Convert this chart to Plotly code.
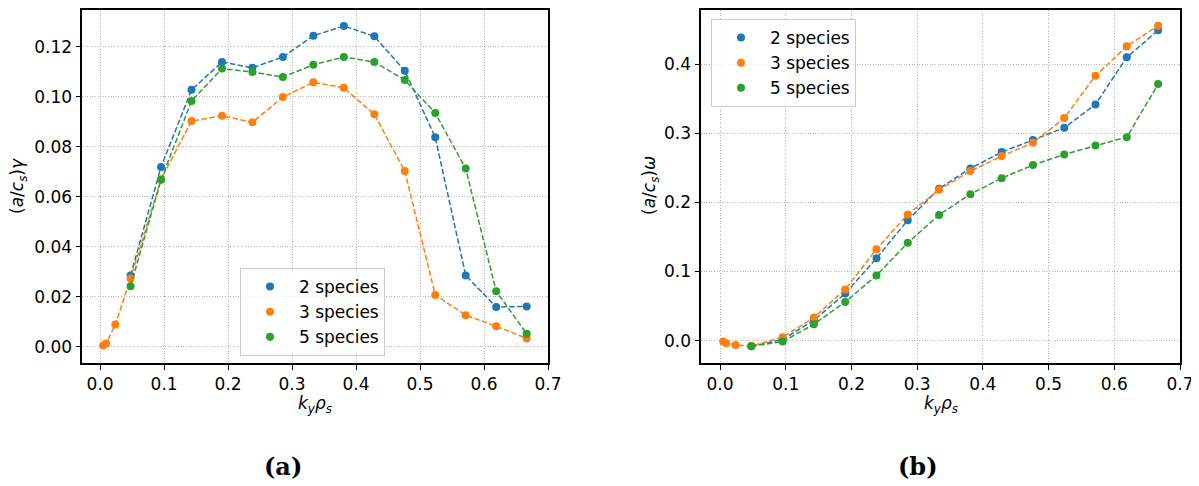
import plotly.graph_objects as go

# ---------------- data ----------------
labels = ["2 species", "3 species", "5 species"]
colors = ["#1f77b4", "#ff7f0e", "#2ca02c"]

ky_main = [0.0476, 0.0952, 0.1429, 0.1905, 0.2381, 0.2857, 0.3333,
           0.3810, 0.4286, 0.4762, 0.5238, 0.5714, 0.6190, 0.6667]
ky_orange = [0.0048, 0.0095, 0.0238] + ky_main

# (a) growth rate
gamma_2 = [0.0286, 0.0719, 0.1028, 0.1139, 0.1116, 0.1159, 0.1244,
           0.1283, 0.1242, 0.1104, 0.0838, 0.0286, 0.0160, 0.0162]
gamma_3 = [0.0006, 0.0014, 0.0090, 0.0274, 0.0670, 0.0903, 0.0924, 0.0898,
           0.0999, 0.1058, 0.1036, 0.0930, 0.0703, 0.0208, 0.0127, 0.0083, 0.0034]
gamma_5 = [0.0243, 0.0668, 0.0983, 0.1113, 0.1099, 0.1079, 0.1128,
           0.1159, 0.1139, 0.1067, 0.0935, 0.0713, 0.0223, 0.0053]

# (b) frequency
omega_2 = [-0.0083, 0.0014, 0.0294, 0.0681, 0.1193, 0.1743, 0.2200,
           0.2493, 0.2729, 0.2903, 0.3081, 0.3420, 0.4101, 0.4493]
omega_3 = [-0.0015, -0.0040, -0.0064, -0.0080, 0.0048, 0.0333, 0.0739, 0.1323,
           0.1826, 0.2183, 0.2454, 0.2671, 0.2864, 0.3222, 0.3835, 0.4261, 0.4560]
omega_5 = [-0.0083, -0.0015, 0.0236, 0.0560, 0.0942, 0.1415, 0.1820,
           0.2120, 0.2352, 0.2541, 0.2696, 0.2826, 0.2946, 0.3714]

x_ticks = [0.0, 0.1, 0.2, 0.3, 0.4, 0.5, 0.6, 0.7]
ya_ticks = [0.00, 0.02, 0.04, 0.06, 0.08, 0.10, 0.12]
yb_ticks = [0.0, 0.1, 0.2, 0.3, 0.4]

# page body adds an 8px margin; work in reference pixels and shift
OFF = 8
W, H = 1199 - OFF, 486 - OFF
FONT = "DejaVu Sans"


def fx(px):
    return (px - OFF) / W


def fy(py):
    return 1 - (py - OFF) / H


fig = go.Figure()

panels = [
    ("x", "y", "legend", [(ky_main, gamma_2), (ky_orange, gamma_3), (ky_main, gamma_5)]),
    ("x2", "y2", "legend2", [(ky_main, omega_2), (ky_orange, omega_3), (ky_main, omega_5)]),
]
for xa, ya, lg, series in panels:
    for (xs, ys), name, c in zip(series, labels, colors):
        fig.add_trace(go.Scatter(
            x=xs, y=ys, mode="lines+markers", name=name,
            line=dict(color=c, width=1.5, dash="5.5px,2.4px"),
            marker=dict(color=c, size=8),
            xaxis=xa, yaxis=ya, showlegend=False, cliponaxis=False))
    for name, c in zip(labels, colors):
        fig.add_trace(go.Scatter(
            x=[None], y=[None], mode="markers", name=name,
            marker=dict(color=c, size=8),
            xaxis=xa, yaxis=ya, legend=lg, showlegend=True))

axis_common = dict(
    showline=True, linecolor="black", linewidth=2, mirror=True,
    ticks="outside", ticklen=4.5, tickwidth=1.3, tickcolor="black",
    showgrid=True, gridcolor="#b8b8b8", gridwidth=0.9, griddash="1px,1.6px",
    zeroline=False, tickfont=dict(family=FONT, size=17, color="black"),
    automargin=False,
)

fig.update_layout(
    width=W, height=H,
    margin=dict(l=0, r=0, t=0, b=0),
    paper_bgcolor="white", plot_bgcolor="white",
    font=dict(family=FONT, size=17, color="black"),
    xaxis=dict(domain=[fx(82), fx(548)], range=[-0.0283, 0.7], tickvals=x_ticks,
               tickformat=".1f", anchor="y", **axis_common),
    yaxis=dict(domain=[fy(363), fy(10)], range=[-0.0064, 0.1347], tickvals=ya_ticks,
               tickformat=".2f", anchor="x", **axis_common),
    xaxis2=dict(domain=[fx(701), fx(1180)], range=[-0.029, 0.7], tickvals=x_ticks,
                tickformat=".1f", anchor="y2", **axis_common),
    yaxis2=dict(domain=[fy(363), fy(10)], range=[-0.0325, 0.4787], tickvals=yb_ticks,
                tickformat=".1f", anchor="x2", **axis_common),
    legend=dict(x=fx(240), y=fy(268), xanchor="left", yanchor="top",
                bgcolor="rgba(255,255,255,0.8)", bordercolor="#cccccc", borderwidth=1,
                font=dict(family=FONT, size=17, color="black"), itemwidth=48),
    legend2=dict(x=fx(711), y=fy(19), xanchor="left", yanchor="top",
                 bgcolor="rgba(255,255,255,0.8)", bordercolor="#cccccc", borderwidth=1,
                 font=dict(family=FONT, size=17, color="black"), itemwidth=48),
)

ann = []
# x titles
for cx in [(82 + 548) / 2, (701 + 1180) / 2]:
    ann.append(dict(x=fx(cx), y=fy(404), xref="paper", yref="paper",
                    text="<i>k<sub>y</sub>ρ<sub>s</sub></i>", showarrow=False,
                    font=dict(family=FONT, size=17), xanchor="center", yanchor="middle"))
# y titles
ann.append(dict(x=fx(18), y=fy(186), xref="paper", yref="paper",
                text="(<i>a</i>/<i>c<sub>s</sub></i>)<i>γ</i>", showarrow=False, textangle=-90,
                font=dict(family=FONT, size=17), xanchor="center", yanchor="middle"))
ann.append(dict(x=fx(650), y=fy(186), xref="paper", yref="paper",
                text="(<i>a</i>/<i>c<sub>s</sub></i>)<i>ω</i>", showarrow=False, textangle=-90,
                font=dict(family=FONT, size=17), xanchor="center", yanchor="middle"))
# captions
for cx, t in [(283, "(a)"), (918, "(b)")]:
    ann.append(dict(x=fx(cx), y=fy(466), xref="paper", yref="paper",
                    text="<b>" + t + "</b>", showarrow=False,
                    font=dict(family="DejaVu Serif", size=24, color="black"),
                    xanchor="center", yanchor="middle"))
fig.update_layout(annotations=ann)

fig.write_html("out.html")
